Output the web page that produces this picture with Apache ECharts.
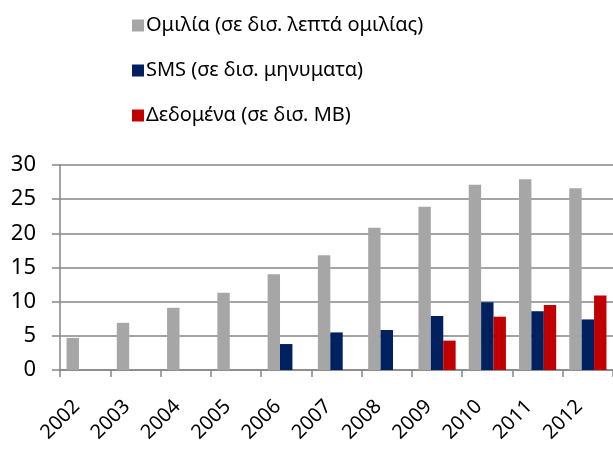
<!DOCTYPE html>
<html><head><meta charset="utf-8">
<script src="https://cdn.jsdelivr.net/npm/echarts@6/dist/echarts.min.js"></script>
<style>html,body{margin:0;padding:0;background:#fff}#c{width:613px;height:450px}</style>
</head><body><div id="c"></div>
<script>
const categories = ['2002','2003','2004','2005','2006','2007','2008','2009','2010','2011','2012'];
const seriesNames = ['Ομιλία (σε δισ. λεπτά ομιλίας)', 'SMS (σε δισ. μηνυματα)', 'Δεδομένα (σε δισ. MB)'];
const voice = [4.7, 6.9, 9.1, 11.3, 14.0, 16.8, 20.8, 23.9, 27.1, 27.9, 26.6];
const sms = [null, null, null, null, 3.8, 5.5, 5.85, 7.9, 9.9, 8.6, 7.4];
const data = [null, null, null, null, null, null, null, 4.3, 7.8, 9.5, 10.9];
const yTicks = {min: 0, max: 30, interval: 5};
const colors = ['#A6A6A6', '#002060', '#C00000'];
const font = '"Noto Sans", sans-serif';
const chart = echarts.init(document.getElementById('c'), null, {renderer: 'canvas'});
chart.setOption({
  animation: false,
  color: colors,
  textStyle: {fontFamily: font},
  legend: {
    orient: 'vertical', left: 127, top: 8,
    itemWidth: 12, itemHeight: 12, itemGap: 20,
    icon: 'rect',
    textStyle: {fontSize: 20, color: '#000', fontFamily: font, lineHeight: 25, padding: [0,0,0,-3]},
    data: seriesNames
  },
  grid: {left: 60, right: -4, top: 165, bottom: 80, containLabel: false},
  xAxis: {
    type: 'category', data: categories,
    axisLine: {lineStyle: {color: '#868686', width: 1.5}},
    axisTick: {show: true, length: 7, lineStyle: {color: '#868686', width: 1.5}},
    axisLabel: {rotate: 45, fontSize: 20, color: '#000', margin: 25, padding: [0, 12, 0, 0], fontFamily: font}
  },
  yAxis: {
    type: 'value', min: yTicks.min, max: yTicks.max, interval: yTicks.interval,
    axisLine: {show: true, lineStyle: {color: '#868686', width: 1.5}},
    axisTick: {show: true, length: 8, lineStyle: {color: '#868686', width: 1.5}},
    splitLine: {lineStyle: {color: '#868686', width: 1.5}},
    axisLabel: {fontSize: 22, color: '#000', margin: 24, fontFamily: font}
  },
  series: [
    {name: seriesNames[0], type: 'bar', data: voice, barGap: '0%', barCategoryGap: '26%'},
    {name: seriesNames[1], type: 'bar', data: sms, barGap: '0%', barCategoryGap: '26%'},
    {name: seriesNames[2], type: 'bar', data: data, barGap: '0%', barCategoryGap: '26%'}
  ]
});
</script></body></html>
